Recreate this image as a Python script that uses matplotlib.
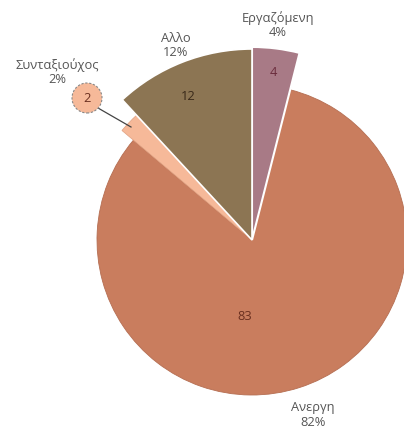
import matplotlib
matplotlib.use("Agg")
import matplotlib.pyplot as plt
from matplotlib.patches import Circle

# Data (clockwise from 12 o'clock)
categories = ["Εργαζόμενη", "Ανεργη", "Συνταξιούχος", "Αλλο"]
values = [4, 83, 2, 12]

# Styles
colors = ["#A87A86", "#C97D5E", "#F6B999", "#8C7553"]
radii = [193, 155, 170, 191]
explode_px = [5, 0, 0, 0]
edge_cols = ["white", "#B56E52", "#E0A080", "white"]
edge_lw = [1.5, 0.6, 0.5, 1.2]

W, H = 404, 434
fig = plt.figure(figsize=(W / 100, H / 100), dpi=100)
ax = fig.add_axes([0, 0, 1, 1])

cx, cy = 252, H - 240
base_r = 155
wedges, _ = ax.pie(values, colors=colors, startangle=90, counterclock=False,
                   radius=base_r, center=(cx, cy),
                   explode=[e / base_r for e in explode_px])
for w, r, ec, lw in zip(wedges, radii, edge_cols, edge_lw):
    w.set_radius(r)
    w.set_edgecolor(ec)
    w.set_linewidth(lw)
# draw the small slices above the big one
wedges[0].set_zorder(3)
wedges[3].set_zorder(3)
wedges[2].set_zorder(2)

ax.set_xlim(0, W)
ax.set_ylim(0, H)
ax.set_aspect("equal")
ax.axis("off")

total = sum(values)
pcts = [f"{round(v / total * 100)}%" for v in values]

fp = dict(family=["Open Sans", "DejaVu Sans"], fontsize=9.3)
lab_col = "#555555"

def Y(y):
    return H - y

# category labels (pixel positions)
label_pos = [(278, 25), (313, 415), (57, 72), (176, 46)]
for (x, y), c, p in zip(label_pos, categories, pcts):
    ax.text(x, Y(y), f"{c}\n{p}", ha="center", va="center", color=lab_col,
            linespacing=1.1, **fp)

# value labels inside wedges
val_pos = [(273, 73), (245, 317), (87, 98), (188, 97)]
val_cols = ["#6A2C3C", "#6B3020", "#6B3020", "#3A2A1A"]
for i, ((x, y), v, col) in enumerate(zip(val_pos, values, val_cols)):
    if i == 2:
        ax.add_patch(Circle((x, Y(y)), 15, facecolor=colors[2], edgecolor="#888888",
                            linestyle=(0, (2, 1.5)), linewidth=0.8, zorder=5))
        ax.plot([x + 11, 131], [Y(y + 10), Y(127)], color="#444444", lw=0.9, zorder=4)
    ax.text(x, Y(y), str(v), ha="center", va="center", color=col, zorder=6, **fp)

fig.savefig("out.png", dpi=100, facecolor="white")
